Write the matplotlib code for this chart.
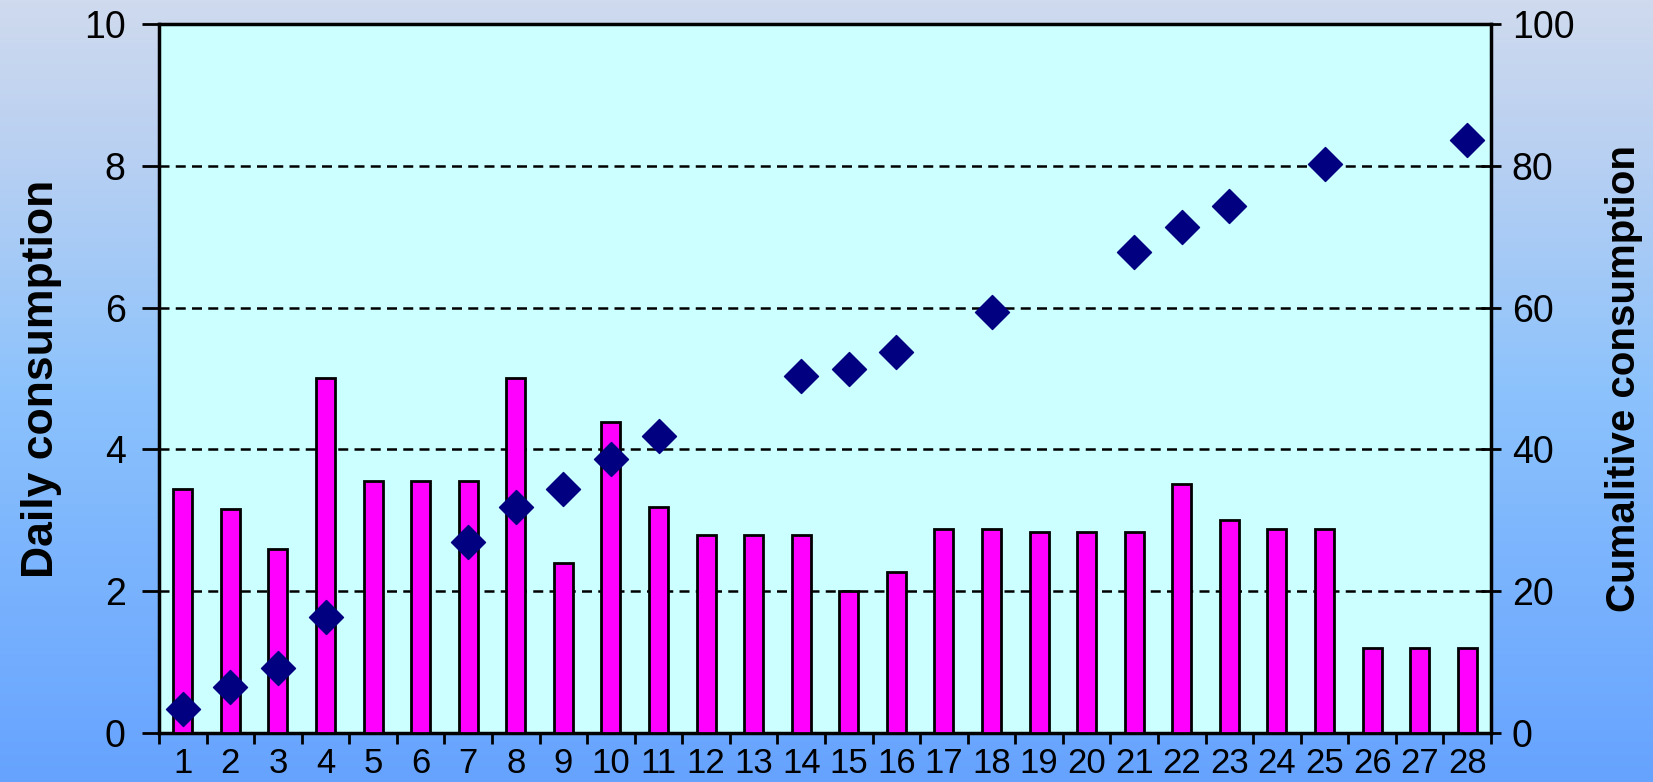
import numpy as np
import matplotlib.pyplot as plt
from matplotlib.colors import LinearSegmentedColormap

# Daily consumption per day (bars, left axis)
days = list(range(1, 29))
daily = [3.44, 3.16, 2.6, 5.0, 3.55, 3.55, 3.55, 5.0, 2.4, 4.39,
         3.19, 2.79, 2.79, 2.79, 2.0, 2.27, 2.87, 2.87, 2.83, 2.83,
         2.83, 3.51, 3.0, 2.87, 2.87, 1.2, 1.2, 1.2]

# Cumulative consumption readings (diamonds, right axis)
cum_days = [1, 2, 3, 4, 7, 8, 9, 10, 11, 14, 15, 16, 18, 21, 22, 23, 25, 28]
cumulative = [3.4, 6.5, 9.1, 16.3, 26.9, 31.9, 34.4, 38.7, 41.9, 50.4,
              51.4, 53.7, 59.4, 67.9, 71.4, 74.4, 80.2, 83.6]

left_ticks = [0, 2, 4, 6, 8, 10]
right_ticks = [0, 20, 40, 60, 80, 100]

plt.rcParams['font.family'] = ['Liberation Sans', 'DejaVu Sans']

fig = plt.figure(figsize=(16.53, 7.82), dpi=100)

# Gradient background for the whole figure
bg = fig.add_axes([0, 0, 1, 1], zorder=-10)
cmap = LinearSegmentedColormap.from_list(
    'bg', [(0.0, '#cfdaee'), (0.2, '#b8d0f2'), (0.5, '#8cc2fc'),
           (1.0, '#66a3ff')])
bg.imshow(np.linspace(0, 1, 256).reshape(-1, 1), aspect='auto',
          cmap=cmap, extent=[0, 1, 0, 1])
bg.axis('off')

ax = fig.add_axes([0.0962, 0.0627, 0.8058, 0.9066])
ax.set_facecolor('#ccffff')

# Bars
ax.bar(days, daily, width=0.4, color='#ff00ff', edgecolor='black',
       linewidth=2, zorder=3)

ax.set_xlim(0.5, 28.5)
ax.set_ylim(0, 10)
ax.set_yticks(left_ticks)
ax.set_xticks(days)
ax.set_xticks(np.arange(0.5, 29, 1), minor=True)
ax.tick_params(axis='x', which='major', length=0, labelsize=25, pad=10)
ax.tick_params(axis='x', which='minor', length=8, width=2,
               direction='out')
ax.tick_params(axis='y', length=12, width=2, labelsize=27, pad=12)

# Dashed grid lines
for y in left_ticks[1:]:
    ax.axhline(y, color='black', linestyle=(0, (4, 2.5)), linewidth=1.8,
               zorder=1)

for side in ['left', 'bottom', 'right', 'top']:
    ax.spines[side].set_linewidth(2.5)

ax.set_ylabel('Daily consumption', fontsize=32, fontweight='bold',
              labelpad=16)

# Secondary axis for cumulative consumption
ax2 = ax.twinx()
ax2.scatter(cum_days, cumulative, marker='D', s=300, color='#000080',
            zorder=4)
ax2.set_ylim(0, 100)
ax2.set_yticks(right_ticks)
ax2.tick_params(axis='y', length=14, width=2, direction='inout',
                labelsize=27, pad=8)
for side in ['left', 'bottom', 'right', 'top']:
    ax2.spines[side].set_visible(False)
ax2.set_ylabel('Cumalitive consumption', fontsize=29, fontweight='bold',
               labelpad=22)

fig.savefig('out.png', dpi=100)
